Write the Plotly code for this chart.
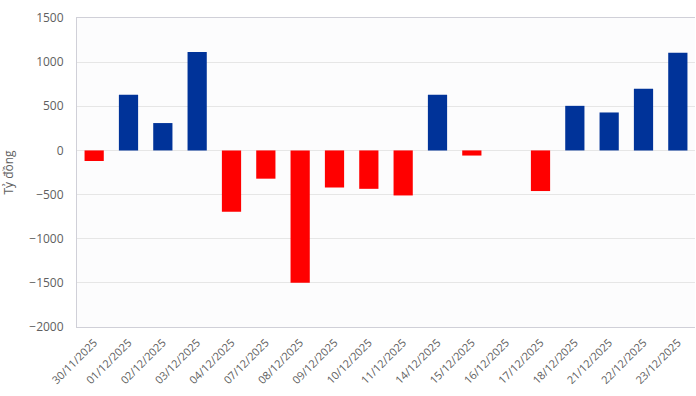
import plotly.graph_objects as go

dates = ["30/11/2025", "01/12/2025", "02/12/2025", "03/12/2025", "04/12/2025",
         "07/12/2025", "08/12/2025", "09/12/2025", "10/12/2025", "11/12/2025",
         "14/12/2025", "15/12/2025", "16/12/2025", "17/12/2025", "18/12/2025",
         "21/12/2025", "22/12/2025", "23/12/2025"]
values = [-120, 630, 310, 1115, -695, -320, -1500, -420, -435, -510,
          630, -58, 0, -460, 505, 430, 700, 1105]
y_ticks = [-2000, -1500, -1000, -500, 0, 500, 1000, 1500]
y_tick_text = [str(v).replace("-", "\u2212") for v in y_ticks]

colors = ["#003399" if v >= 0 else "#ff0000" for v in values]

fig = go.Figure(go.Bar(x=dates, y=values, marker=dict(color=colors, line=dict(width=0)),
                       width=0.56))

fig.update_layout(
    width=696, height=396,
    margin=dict(l=77, r=1, t=18, b=69),
    paper_bgcolor="white",
    plot_bgcolor="#fcfcfd",
    showlegend=False,
    font=dict(family="Open Sans, sans-serif", color="#555555"),
    xaxis=dict(tickangle=-45, tickfont=dict(size=11, color="#606060"),
               showgrid=False, showline=True, linecolor="#d0d0d8", mirror=True,
               ticks="", range=[-0.5, len(dates) - 0.5], automargin=False,
               ticklabelstandoff=4),
    yaxis=dict(range=[-2000, 1500], tickvals=y_ticks, ticktext=y_tick_text,
               tickfont=dict(size=12, color="#606060"),
               gridcolor="#e6e6e6", zeroline=False, automargin=False,
               showline=True, linecolor="#d0d0d8", ticklabelstandoff=10,
               title=dict(text="Tỷ đồng", font=dict(size=12, color="#606060"), standoff=14)),
)

fig.write_html("out.html", config={"displayModeBar": False},
               post_script="document.body.style.margin='0';document.body.style.overflow='hidden';")
